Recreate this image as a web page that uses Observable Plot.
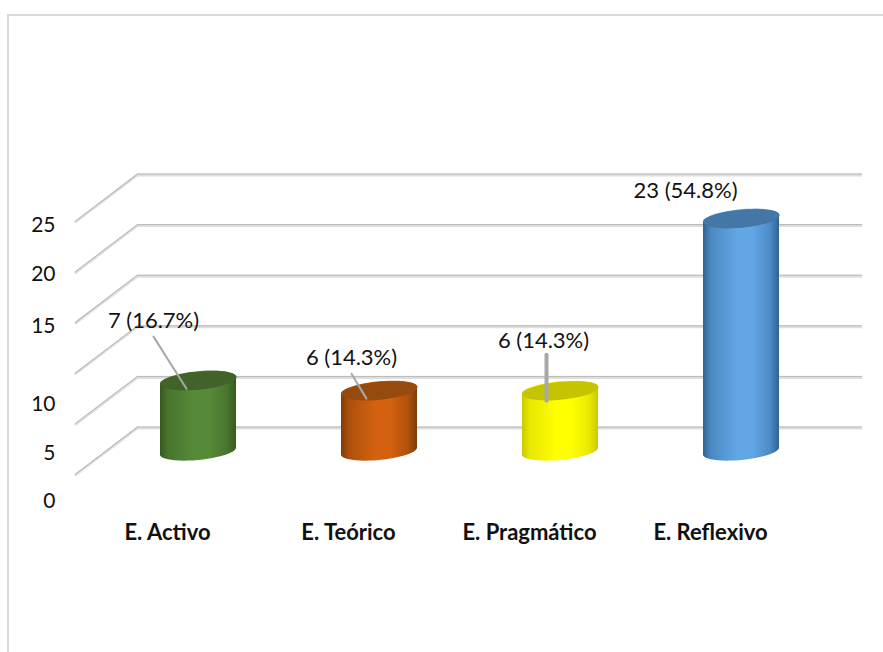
<!DOCTYPE html>
<html>
<head>
<meta charset="utf-8">
<script src="https://cdn.jsdelivr.net/npm/d3@7"></script>
<script src="https://cdn.jsdelivr.net/npm/@observablehq/plot@0.6"></script>
<style>
  html, body { margin: 0; padding: 0; background: #fff; overflow: hidden; }
  #page { position: relative; width: 883px; height: 652px; }
  #border { position: absolute; left: 7px; top: 14px; right: 0; bottom: 0; border-left: 2px solid #d9d9d9; border-top: 2px solid #d9d9d9; pointer-events: none; }
</style>
</head>
<body>
<div id="page"><div id="border"></div></div>
<script>
const categories = ["E. Activo", "E. Teórico", "E. Pragmático", "E. Reflexivo"];
const counts = [7, 6, 6, 23];
const labels = ["7 (16.7%)", "6 (14.3%)", "6 (14.3%)", "23 (54.8%)"];
const yTicks = [0, 5, 10, 15, 20, 25];
const capColors = ["#41632a", "#964a0e", "#c4c400", "#4477a6"];
const edgeColors = ["#37591f", "#7d3c08", "#c9c900", "#2f6391"];
const midColors = ["#568a38", "#d4610f", "#ffff00", "#62a6e6"];

const rows = categories.map((category, i) => ({category, count: counts[i], label: labels[i], i}));

// Cylinder geometry (pixels): half-width, ellipse half-height, tilt, depth offset
const A = 38, B = 9, K = 3.5, MID = 24;
const pt = (cx, cy, t) => [cx + A * Math.cos(t), cy + B * Math.sin(t) - K * Math.cos(t)];
const capSymbol = {
  draw(ctx) {
    for (let s = 0; s <= 48; s++) {
      const [x, y] = pt(0, 0, s / 48 * 2 * Math.PI);
      s ? ctx.lineTo(x, y) : ctx.moveTo(x, y);
    }
    ctx.closePath();
  }
};
const segment = {draw(ctx, l) { ctx.moveTo(0, 0); ctx.lineTo(0, -l); }};

function cylinderClip(index, scales, values, dimensions, context, next) {
  const g = next(index, scales, values, dimensions, context);
  d3.select(g).selectAll("rect").each(function (_, n) {
    const r = d3.select(this);
    const x = +r.attr("x"), w = +r.attr("width"), T = +r.attr("y"), H = +r.attr("height");
    const cx = x + w / 2, Bt = T + H, p = d3.path();
    for (let s = 0; s <= 24; s++) {
      const [px, py] = pt(cx, T, Math.PI + s / 24 * Math.PI);
      s ? p.lineTo(px, py) : p.moveTo(px, py);
    }
    for (let s = 0; s <= 24; s++) {
      const [px, py] = pt(cx, Bt, s / 24 * Math.PI);
      p.lineTo(px, py);
    }
    p.closePath();
    const id = "cyl-clip-" + n;
    d3.select(g).append("clipPath").attr("id", id).append("path").attr("d", p.toString());
    r.attr("y", T - 12).attr("height", H + 24).attr("clip-path", `url(#${id})`);
  });
  return g;
}

const leaders = [
  {i: 0, dx: -45, dy: -20, rotate: 147.6, length: 61.6, width: 2},
  {i: 1, dx: -28, dy: 7, rotate: 149, length: 29, width: 2},
  {i: 2, dx: -14, dy: -12, rotate: 180, length: 46, width: 4}
];
const labelOffsets = [[-45, -36], [-28, -9], [-17, -26], [-56, -4]];
const tickOffsets = {25: 51, 20: 49.5, 15: 51, 10: 78, 5: 76, 0: 74};

const diagonal = (stroke, strokeWidth, dy) => Plot.vector(yTicks, {
  frameAnchor: "left", y: d => d, rotate: -127.2, length: 77.8, anchor: "start",
  shape: segment, stroke, strokeWidth, dy
});

const chart = Plot.plot({
  width: 883,
  height: 652,
  marginLeft: 137,
  marginRight: 21,
  marginTop: 0,
  marginBottom: 132,
  style: {background: "transparent", fontFamily: "Lato, 'Open Sans', sans-serif", color: "#111"},
  x: {type: "band", domain: categories, range: [107.5, 831.5], paddingInner: 0.58, paddingOuter: 0.29, align: 0.5},
  y: {domain: [0, 25], range: [427, 174]},
  color: {type: "identity"},
  marks: [
    Plot.ruleY(yTicks, {y: d => d, stroke: "#dedede", strokeWidth: 3, dy: 0.5}),
    Plot.ruleY(yTicks, {y: d => d, stroke: "#b8b8b8", strokeWidth: 1, dy: -0.5}),
    diagonal("#dedede", 2.5, 0.5),
    diagonal("#b8b8b8", 1, -0.5),
    ...yTicks.map(t => Plot.axisY({ticks: [t], anchor: "left", tickSize: 0, tickPadding: 82, dy: tickOffsets[t], fontSize: 21, label: null})),
    Plot.axisX({anchor: "bottom", tickSize: 0, tickPadding: 4, dx: -31, fontSize: 22, fontWeight: "bold", label: null}),
    Plot.barY(rows, {x: "category", y: "count", fill: d => `url(#cyl-grad-${d.i})`, dy: MID, render: cylinderClip}),
    Plot.dot(rows, {x: "category", y: "count", symbol: capSymbol, r: 10, fill: d => capColors[d.i], dy: MID}),
    ...leaders.map(l => Plot.vector([rows[l.i]], {
      x: "category", y: "count", dx: l.dx, dy: l.dy, rotate: l.rotate, length: l.length,
      anchor: "start", shape: segment, stroke: "#a8a8a8", strokeWidth: l.width
    })),
    ...rows.map(r => Plot.text([r], {
      x: "category", y: "count", text: "label", dx: labelOffsets[r.i][0], dy: labelOffsets[r.i][1],
      fontSize: 22, fill: "#111"
    }))
  ]
});

const defs = d3.select(chart).append("defs");
categories.forEach((_, i) => {
  const g = defs.append("linearGradient").attr("id", `cyl-grad-${i}`)
    .attr("x1", 0).attr("x2", 1).attr("y1", 0).attr("y2", 0);
  const mix = t => d3.interpolateRgb(edgeColors[i], midColors[i])(t);
  [[0, edgeColors[i]], [0.1, mix(0.55)], [0.45, midColors[i]], [0.65, midColors[i]],
   [0.88, mix(0.6)], [1, edgeColors[i]]]
    .forEach(([o, c]) => g.append("stop").attr("offset", o).attr("stop-color", c));
});
document.getElementById("page").prepend(chart);
</script>
</body>
</html>
